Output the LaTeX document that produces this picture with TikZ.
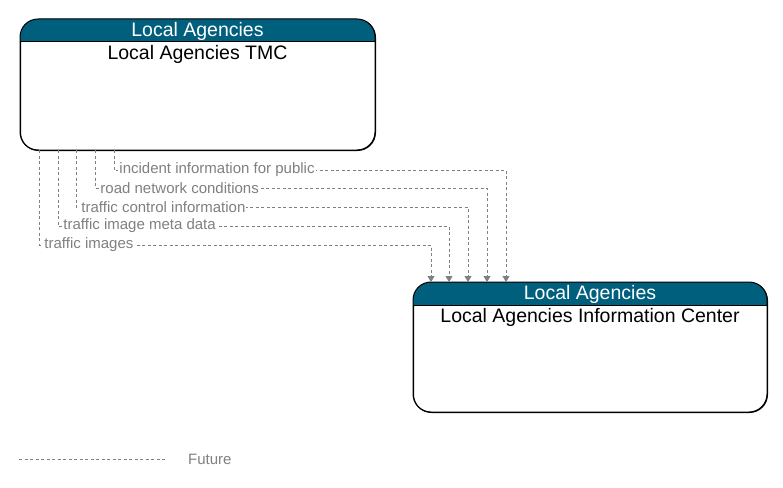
\documentclass[tikz,border=0pt]{standalone}
\usepackage{fontspec}
\setmainfont{Liberation Sans}
\usetikzlibrary{arrows.meta}
\definecolor{hdr}{RGB}{0,95,125}
\definecolor{flowgray}{RGB}{128,128,128}
\tikzset{
  elem/.style={draw=black, line width=1pt, rounded corners=18pt, fill=white, inner sep=0pt},
  hdrtext/.style={text=white, font=\fontsize{19.5}{21}\selectfont, inner sep=0pt},
  nametext/.style={text=black, font=\fontsize{19.5}{21}\selectfont, inner sep=0pt, anchor=north},
  flow/.style={draw=flowgray, line width=0.9pt, dash pattern=on 3pt off 2.5pt, -{Triangle[width=7pt,length=6pt]}},
  flowlabel/.style={text=flowgray, font=\fontsize{15}{17}\selectfont, fill=white, inner xsep=1pt, inner ysep=1pt, anchor=west},
  legendline/.style={draw=flowgray, line width=0.9pt, dash pattern=on 3pt off 2.5pt}
}
\begin{document}
\begin{tikzpicture}[x=1pt,y=-1pt]
\useasboundingbox (0,0) rectangle (783,487);
% element 1
\node[elem, minimum width=355pt, minimum height=131pt, anchor=north west] (tmc) at (20,19) {};
\begin{scope}
  \clip[rounded corners=18pt] (20,19) rectangle (375,150);
  \fill[hdr] (20,19) rectangle (375,42);
\end{scope}
\draw[line width=1pt, rounded corners=18pt] (20,19) rectangle (375,150);
\draw[line width=1pt] (20,42) -- (375,42);
\node[hdrtext] (tmch) at (197.5,31.5) {Local Agencies};
\node[nametext] (tmcn) at (197.5,45) {Local Agencies TMC};
% element 2
\node[elem, minimum width=354pt, minimum height=130pt, anchor=north west] (lic) at (413,282) {};
\begin{scope}
  \clip[rounded corners=18pt] (413,282) rectangle (767,412);
  \fill[hdr] (413,282) rectangle (767,305);
\end{scope}
\draw[line width=1pt, rounded corners=18pt] (413,282) rectangle (767,412);
\draw[line width=1pt] (413,305) -- (767,305);
\node[hdrtext] (lich) at (590,294.5) {Local Agencies};
\node[nametext] (licn) at (590,308) {Local Agencies Information Center};
% connector endpoints
\coordinate (a1) at (39,150);  \coordinate (b1) at (431,282); \coordinate (m1) at (431,245);
\coordinate (a2) at (58,150);  \coordinate (b2) at (449,282); \coordinate (m2) at (449,226);
\coordinate (a3) at (76,150);  \coordinate (b3) at (468,282); \coordinate (m3) at (468,207);
\coordinate (a4) at (95,150);  \coordinate (b4) at (487,282); \coordinate (m4) at (487,188);
\coordinate (a5) at (114,150); \coordinate (b5) at (506,282); \coordinate (m5) at (506,170);
% flows
\draw[flow] (a5) |- node[flowlabel, pos=0.5, xshift=4pt] (l5) {incident information for public} (m5) -- (b5);
\draw[flow] (a4) |- node[flowlabel, pos=0.5, xshift=4pt] (l4) {road network conditions} (m4) -- (b4);
\draw[flow] (a3) |- node[flowlabel, pos=0.5, xshift=4pt] (l3) {traffic control information} (m3) -- (b3);
\draw[flow] (a2) |- node[flowlabel, pos=0.5, xshift=4pt] (l2) {traffic image meta data} (m2) -- (b2);
\draw[flow] (a1) |- node[flowlabel, pos=0.5, xshift=4pt] (l1) {traffic images} (m1) -- (b1);
% legend
\coordinate (lg1) at (19,459);
\coordinate (lg2) at (166,459);
\draw[legendline] (lg1) -- (lg2);
\node[text=flowgray, font=\fontsize{15}{17}\selectfont, anchor=west, inner sep=0pt] (lgt) at (188,459) {Future};
\end{tikzpicture}
\end{document}
